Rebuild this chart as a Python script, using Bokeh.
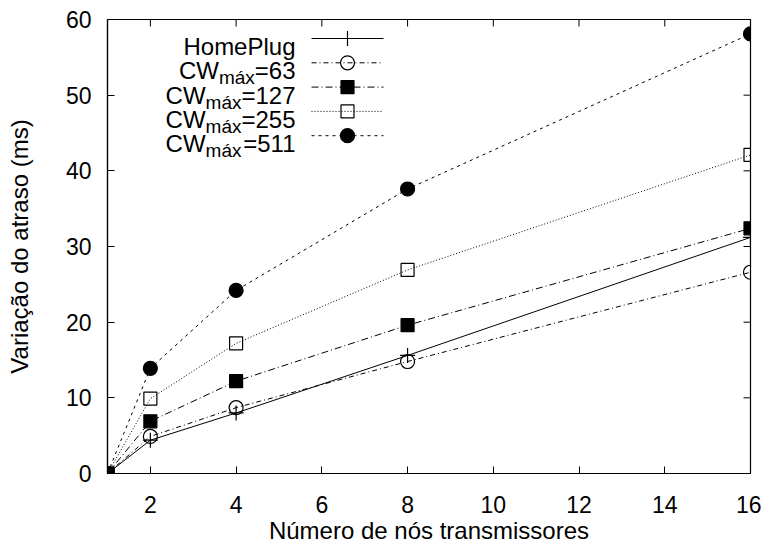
from bokeh.plotting import figure
from bokeh.models import Range1d, FixedTicker, Label
from bokeh.embed import file_html
from bokeh.resources import INLINE

# ---------------- data ----------------
x_nodes = [1, 2, 4, 8, 16]
homeplug = [0, 4.4, 8.0, 15.6, 31.2]
cw63 = [0, 4.9, 8.7, 14.8, 26.6]
cw127 = [0, 6.9, 12.2, 19.6, 32.4]
cw255 = [0, 9.9, 17.2, 26.9, 42.1]
cw511 = [0, 13.9, 24.2, 37.6, 58.1]
cw_values = ["63", "127", "255", "511"]
x_ticks = [2, 4, 6, 8, 10, 12, 14, 16]
y_ticks = [0, 10, 20, 30, 40, 50, 60]
x_label = "Número de nós transmissores"
y_label = "Variação do atraso (ms)"

# ---------------- layout ----------------
FONT = "Liberation Sans"
FS = 23
LAB_FS = 24
LEG_FS = 24
SUB_FS = 19
W, H = 761, 547
BL, BR, BT, BB = 107, 11, 19, 74
XMIN, XMAX, YMIN, YMAX = 1, 16, 0, 60
FW = W - BL - BR
FH = H - BT - BB
TICK = 7


def dx(px):
    return XMIN + (px - BL) / FW * (XMAX - XMIN)


def dy(py):
    return YMAX - (py - BT) / FH * (YMAX - YMIN)


CHAR_W = {'C': 722, 'W': 944, 'm': 833, 'á': 556, 'x': 500, '=': 584}
for d in "0123456789":
    CHAR_W[d] = 556


def text_width(s, size):
    return sum(CHAR_W.get(c, 556) for c in s) / 1000.0 * size


p = figure(width=W, height=H,
           x_range=Range1d(XMIN, XMAX), y_range=Range1d(YMIN, YMAX),
           output_backend="svg", toolbar_location=None,
           min_border_left=BL, min_border_right=BR,
           min_border_top=BT, min_border_bottom=BB)
p.grid.visible = False
p.outline_line_color = "black"
p.outline_line_width = 1.2
p.background_fill_color = "white"
p.border_fill_color = "white"


def style_axis(ax, ticks):
    ax.ticker = FixedTicker(ticks=ticks)
    ax.major_tick_in = TICK
    ax.major_tick_out = 0
    ax.minor_tick_in = 0
    ax.minor_tick_out = 0
    ax.axis_line_color = "black"
    ax.axis_line_width = 1.2
    ax.major_tick_line_color = "black"
    ax.major_tick_line_width = 1
    ax.major_label_text_font = FONT
    ax.major_label_text_font_size = f"{FS}px"
    ax.major_label_text_color = "black"
    ax.axis_label_text_font = FONT
    ax.axis_label_text_font_size = f"{LAB_FS}px"
    ax.axis_label_text_font_style = "normal"
    ax.axis_label_text_color = "black"


xa = p.xaxis[0]
style_axis(xa, x_ticks)
xa.axis_label = x_label
xa.major_label_standoff = 22
xa.axis_label_standoff = 1

ya = p.yaxis[0]
style_axis(ya, y_ticks)
ya.axis_label = y_label
ya.major_label_standoff = 16
ya.axis_label_standoff = 30

# mirrored inward ticks on top and right edges
ty = TICK / FH * (YMAX - YMIN)
tx = TICK / FW * (XMAX - XMIN)
p.segment(x0=x_ticks, y0=[YMAX] * len(x_ticks), x1=x_ticks, y1=[YMAX - ty] * len(x_ticks),
          line_color="black", line_width=1)
p.segment(x0=[XMAX] * len(y_ticks), y0=y_ticks, x1=[XMAX - tx] * len(y_ticks), y1=y_ticks,
          line_color="black", line_width=1)

# ---------------- series ----------------
series = [
    dict(y=homeplug, dash="solid", marker="cross", fill=None, size=15),
    dict(y=cw63, dash="5 3 1 3", marker="circle", fill=None, size=14),
    dict(y=cw127, dash="7 3 1 3", marker="square", fill="black", size=13),
    dict(y=cw255, dash="1 2", marker="square", fill=None, size=13),
    dict(y=cw511, dash="3 4", marker="circle", fill="black", size=14),
]

for s in series:
    p.line(x_nodes, s["y"], line_color="black", line_width=1, line_dash=s["dash"])
    p.scatter(x_nodes, s["y"], marker=s["marker"], size=s["size"],
              line_color="black", line_width=1.2,
              fill_color=s["fill"] if s["fill"] else None)

# ---------------- legend (gnuplot style: text, then sample) ----------------
LEG_R = 295
LEG_X0, LEG_X1, LEG_XM = 311, 383, 347
ROW0, ROW_DY = 38, 24.3
BASE_OFF = 8
SUB_OFF = 7

for i, s in enumerate(series):
    yc = ROW0 + i * ROW_DY
    yb = yc + BASE_OFF
    if i == 0:
        p.add_layout(Label(x=dx(LEG_R), y=dy(yb), text="HomePlug", text_align="right",
                           text_baseline="alphabetic", text_font=FONT,
                           text_font_size=f"{LEG_FS}px", text_color="black"))
    else:
        tail = "=" + cw_values[i - 1]
        wt = text_width(tail, LEG_FS)
        ws = text_width("máx", SUB_FS)
        p.add_layout(Label(x=dx(LEG_R), y=dy(yb), text=tail, text_align="right",
                           text_baseline="alphabetic", text_font=FONT,
                           text_font_size=f"{LEG_FS}px", text_color="black"))
        p.add_layout(Label(x=dx(LEG_R - wt), y=dy(yb + SUB_OFF), text="máx", text_align="right",
                           text_baseline="alphabetic", text_font=FONT,
                           text_font_size=f"{SUB_FS}px", text_color="black"))
        p.add_layout(Label(x=dx(LEG_R - wt - ws), y=dy(yb), text="CW", text_align="right",
                           text_baseline="alphabetic", text_font=FONT,
                           text_font_size=f"{LEG_FS}px", text_color="black"))
    p.line([dx(LEG_X0), dx(LEG_X1)], [dy(yc), dy(yc)], line_color="black",
           line_width=1, line_dash=s["dash"])
    p.scatter([dx(LEG_XM)], [dy(yc)], marker=s["marker"], size=s["size"],
              line_color="black", line_width=1.2,
              fill_color=s["fill"] if s["fill"] else None)

open("out.html", "w").write(file_html(p, INLINE))
